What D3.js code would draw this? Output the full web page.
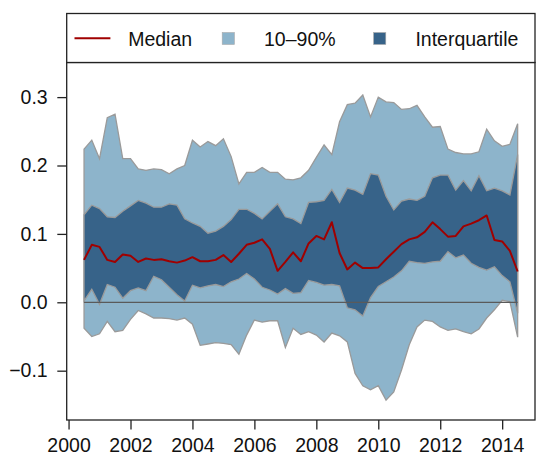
<!DOCTYPE html>
<html><head><meta charset="utf-8">
<script src="https://cdn.jsdelivr.net/npm/d3@7"></script>
<style>html,body{margin:0;padding:0;background:#fff;}svg{display:block;font-family:"Liberation Sans",Arial,Helvetica,sans-serif;}</style>
</head><body>
<svg id="c" width="536" height="455"></svg>
<script>
const years = [2000.5,2000.75,
 2001,2001.25,2001.5,2001.75, 2002,2002.25,2002.5,2002.75, 2003,2003.25,2003.5,2003.75,
 2004,2004.25,2004.5,2004.75, 2005,2005.25,2005.5,2005.75, 2006,2006.25,2006.5,2006.75,
 2007,2007.25,2007.5,2007.75, 2008,2008.25,2008.5,2008.75, 2009,2009.25,2009.5,2009.75,
 2010,2010.25,2010.5,2010.75, 2011,2011.25,2011.5,2011.75, 2012,2012.25,2012.5,2012.75,
 2013,2013.25,2013.5,2013.75, 2014,2014.25,2014.5];
const p90 = [0.224,0.237,0.210,0.270,0.275,0.210,0.210,0.195,0.193,0.195,
 0.194,0.188,0.195,0.200,0.237,0.227,0.235,0.229,0.239,0.213,
 0.173,0.190,0.190,0.197,0.190,0.190,0.180,0.179,0.182,0.193,
 0.212,0.230,0.216,0.264,0.289,0.291,0.303,0.271,0.300,0.293,
 0.292,0.282,0.283,0.288,0.271,0.256,0.257,0.224,0.219,0.217,
 0.217,0.220,0.253,0.236,0.228,0.231,0.261];
const p75 = [0.128,0.142,0.137,0.125,0.124,0.133,0.141,0.149,0.145,0.139,
 0.139,0.144,0.142,0.122,0.116,0.111,0.101,0.104,0.111,0.121,
 0.136,0.136,0.130,0.122,0.133,0.144,0.125,0.122,0.115,0.146,
 0.147,0.149,0.165,0.146,0.167,0.164,0.158,0.188,0.186,0.155,
 0.135,0.148,0.151,0.149,0.155,0.182,0.186,0.186,0.164,0.178,
 0.163,0.185,0.163,0.167,0.163,0.157,0.216];
const median = [0.062,0.084,0.081,0.062,0.059,0.070,0.068,0.059,0.064,0.062,
 0.063,0.060,0.058,0.061,0.066,0.060,0.060,0.062,0.069,0.059,
 0.071,0.084,0.087,0.092,0.078,0.046,0.059,0.073,0.060,0.086,
 0.097,0.092,0.117,0.072,0.048,0.058,0.050,0.050,0.051,0.063,
 0.074,0.085,0.092,0.095,0.103,0.117,0.107,0.096,0.097,0.111,
 0.115,0.120,0.127,0.091,0.089,0.075,0.045];
const p25 = [0.002,0.019,-0.003,0.026,0.022,0.006,0.017,0.021,0.017,0.038,
 0.033,0.022,0.011,0.002,0.025,0.021,0.024,0.026,0.023,0.030,
 0.034,0.042,0.034,0.022,0.018,0.012,0.020,0.013,0.014,0.032,
 0.029,0.025,0.026,0.024,-0.008,-0.011,-0.020,0.007,0.023,0.030,
 0.037,0.046,0.060,0.058,0.057,0.059,0.060,0.074,0.065,0.069,
 0.057,0.051,0.047,0.052,0.039,0.030,-0.016];
const p10 = [-0.038,-0.050,-0.046,-0.028,-0.043,-0.041,-0.025,-0.012,-0.017,-0.023,
 -0.023,-0.024,-0.026,-0.023,-0.032,-0.063,-0.061,-0.059,-0.060,-0.062,
 -0.076,-0.048,-0.026,-0.029,-0.027,-0.027,-0.066,-0.038,-0.047,-0.043,
 -0.048,-0.058,-0.045,-0.049,-0.058,-0.104,-0.122,-0.128,-0.122,-0.143,
 -0.131,-0.099,-0.062,-0.036,-0.026,-0.028,-0.036,-0.041,-0.039,-0.043,
 -0.046,-0.039,-0.023,-0.011,0.003,0.001,-0.051];
const xTicks = [2000,2002,2004,2006,2008,2010,2012,2014];
const yTicks = [-0.1,0.0,0.1,0.2,0.3];
const legendLabels = ["Median","10\u201390%","Interquartile"];

const C_LIGHT = "#8db4cb", C_DARK = "#376389", C_MED = "#a00000", C_EDGE = "#9a9a9a";
const L = 66.7, R = 535, T = 62.5, B = 420, LT = 13.5;
const FS = "19.5px";

const svg = d3.select("#c");
const x = d3.scaleLinear().domain([1999.94, 2015.06]).range([L, R]);
const y = d3.scaleLinear().domain([-0.1721, 0.3506]).range([B, T]);

const data = years.map((t,i)=>({t, p10:p10[i], p25:p25[i], m:median[i], p75:p75[i], p90:p90[i]}));

svg.append("path").datum(data)
  .attr("d", d3.area().x(d=>x(d.t)).y0(d=>y(d.p10)).y1(d=>y(d.p90)))
  .attr("fill", C_LIGHT).attr("stroke", C_EDGE).attr("stroke-width", 1.3);
svg.append("path").datum(data)
  .attr("d", d3.area().x(d=>x(d.t)).y0(d=>y(d.p25)).y1(d=>y(d.p75)))
  .attr("fill", C_DARK).attr("stroke", C_EDGE).attr("stroke-width", 1.3);
svg.append("line")
  .attr("x1", x(years[0])).attr("x2", x(years[years.length-1]))
  .attr("y1", y(0)).attr("y2", y(0))
  .attr("stroke", "#5a5a5a").attr("stroke-width", 1.2);
svg.append("path").datum(data)
  .attr("d", d3.line().x(d=>x(d.t)).y(d=>y(d.m)))
  .attr("fill", "none").attr("stroke", C_MED).attr("stroke-width", 2).attr("stroke-linejoin","round");

// plot frame
svg.append("rect").attr("x", L).attr("y", T).attr("width", R-L).attr("height", B-T)
  .attr("fill","none").attr("stroke","#222").attr("stroke-width",1.3);

// axes
const fmtY = v => (v < 0 ? "\u2212" : "") + Math.abs(v).toFixed(1);
const ya = svg.append("g").attr("transform", `translate(${L},0)`)
  .call(d3.axisLeft(y).tickValues(yTicks).tickFormat(fmtY).tickSize(9.4).tickSizeOuter(0).tickPadding(9.6));
ya.select(".domain").remove();
ya.selectAll("line").attr("stroke","#222").attr("stroke-width",1.3);
ya.selectAll("text").attr("font-size", FS).attr("fill","#111").attr("font-family","Liberation Sans, Arial, sans-serif");

const xa = svg.append("g").attr("transform", `translate(0,${B})`)
  .call(d3.axisBottom(x).tickValues(xTicks).tickFormat(d3.format("d")).tickSize(9.5).tickSizeOuter(0).tickPadding(9));
xa.select(".domain").remove();
xa.selectAll("line").attr("stroke","#222").attr("stroke-width",1.3);
xa.selectAll("text").attr("font-size", FS).attr("fill","#111").attr("font-family","Liberation Sans, Arial, sans-serif");

// legend
const lg = svg.append("g");
lg.append("rect").attr("x", L).attr("y", LT).attr("width", R-L).attr("height", T-LT)
  .attr("fill","#fff").attr("stroke","#222").attr("stroke-width",1.3);
lg.append("line").attr("x1",74.5).attr("x2",110.4).attr("y1",38.3).attr("y2",38.3)
  .attr("stroke",C_MED).attr("stroke-width",2);
lg.append("rect").attr("x",222.2).attr("y",32.5).attr("width",12.2).attr("height",12)
  .attr("fill",C_LIGHT).attr("stroke","#aaa").attr("stroke-width",0.6);
lg.append("rect").attr("x",373.6).attr("y",32.5).attr("width",12.2).attr("height",12)
  .attr("fill",C_DARK).attr("stroke","#aaa").attr("stroke-width",0.6);
const lx = [128.2, 264, 415.4];
legendLabels.forEach((s,i)=>{
  lg.append("text").attr("x", lx[i]).attr("y", 46).attr("font-size", FS).attr("fill","#111").text(s);
});
</script>
</body></html>
